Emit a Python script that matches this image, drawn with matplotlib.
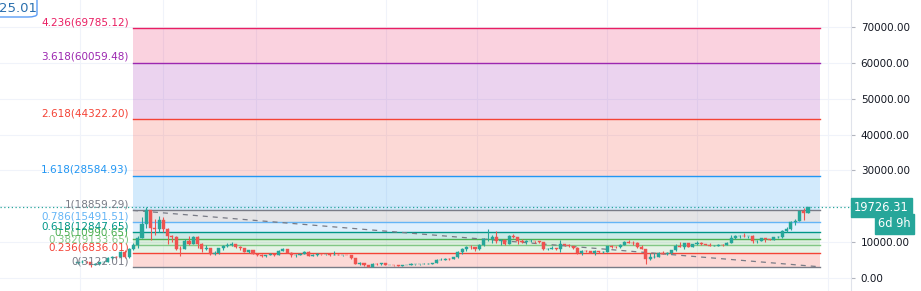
import matplotlib
matplotlib.use('Agg')
import matplotlib.pyplot as plt
import matplotlib.transforms as mtransforms
from matplotlib.patches import FancyBboxPatch
import numpy as np

# ---------------- Weekly BTC candles, Aug 2017 - Nov 2020 ----------------
first_open = 4090

closes = [
    # 2017
    4350, 4580, 4330, 3700, 3780, 4350, 4600, 5680, 5990, 5750, 7350, 5950, 8000, 9300, 11200, 15000, 19000, 13900, 13800,
    # 2018
    16200, 13600, 11600, 11500, 8200, 8100, 10400, 9600, 11400, 9500, 8200, 8400, 6800, 7000, 8300, 8900, 9300, 9400,
    8700, 8500, 7350, 7700, 6800, 6500, 6100, 6400, 6750, 6350, 7400, 8200, 7000, 6300, 6400, 6700, 7300, 6250, 6500,
    6700, 6600, 6600, 6300, 6500, 6400, 6450, 6350, 5600, 4000, 4100, 3600, 3200, 3950, 3800, 4050,
    # 2019
    3550, 3600, 3550, 3450, 3650, 3650, 3800, 3850, 3900, 4000, 4000, 4100, 5050, 5100, 5350, 5250, 5750, 7250, 8200,
    8750, 8550, 8000, 9300, 10800, 10800, 11400, 10200, 10500, 9500, 11800, 11400, 10300, 10150, 10400, 10400, 10300,
    9950, 8050, 8200, 8300, 8200, 9550, 9200, 8800, 8500, 7100, 7550, 7500, 7100, 7500, 7250, 7350,
    # 2020
    8900, 8700, 8600, 9300, 10150, 9900, 9650, 8550, 8000, 5350, 5800, 5900, 6850, 6650, 7100, 7700, 8900, 8700, 9700,
    8700, 9450, 9700, 9350, 9300, 9000, 9050, 9250, 9150, 9900, 11100, 11700, 11850, 11650, 11700, 10250, 10330, 11080,
    10750, 10670, 11370, 11500, 13030, 13800, 15480, 15980, 18650, 18180, 19726.31,
]

highs = [
    # 2017
    4500, 4980, 4700, 4400, 4100, 4450, 4800, 5850, 6170, 6100, 7500, 7900, 8300, 9800, 11800, 16900, 19666, 19100, 16500,
    # 2018
    17200, 17100, 14000, 12000, 11700, 9000, 11000, 11700, 11700, 11600, 9900, 9200, 8500, 7500, 8500, 9100, 9800, 9990,
    9500, 8900, 8500, 7800, 7800, 6900, 6800, 6500, 6900, 6800, 7700, 8500, 8200, 7200, 6600, 7000, 7400, 7400, 6600,
    6900, 6800, 6700, 6700, 7600, 6600, 6500, 6550, 6500, 5700, 4400, 4300, 3650, 4200, 4250, 4100,
    # 2019
    4100, 3700, 3650, 3550, 3700, 3700, 4200, 3900, 3950, 4050, 4100, 4150, 5300, 5450, 5450, 5650, 5850, 7450, 8400,
    8900, 9100, 8550, 9400, 11200, 13800, 12000, 13200, 11000, 10600, 12000, 12300, 11500, 10950, 10600, 10900, 10450,
    10350, 10050, 8500, 8800, 8400, 10500, 9600, 9450, 8900, 8650, 7850, 7750, 7600, 7800, 7600, 7500,
    # 2020
    8950, 9200, 8800, 9600, 10200, 10500, 10300, 9950, 9200, 8200, 6900, 6850, 7200, 7450, 7250, 7800, 9450, 10000, 9900,
    9900, 9600, 10400, 9950, 9600, 9800, 9300, 9450, 9350, 10000, 12100, 11900, 12100, 12450, 11800, 12050, 10600, 11150,
    11000, 10950, 11500, 11700, 13250, 14100, 15950, 16500, 18800, 19400, 19900,
]

lows = [
    # 2017
    3950, 4200, 4050, 2980, 3500, 3600, 4300, 4500, 5100, 5400, 5700, 5500, 5450, 7800, 8500, 11100, 14000, 10700, 12100,
    # 2018
    12900, 12800, 9400, 10000, 7800, 6000, 8000, 9300, 9400, 8500, 7300, 7800, 6500, 6400, 6600, 7900, 8700, 9000,
    8300, 7900, 7200, 7100, 6600, 6100, 5800, 5750, 6300, 6100, 6300, 7400, 6900, 5900, 5900, 6300, 6700, 6100, 6200,
    6100, 6400, 6500, 6100, 6300, 6350, 6250, 6300, 5400, 3800, 3700, 3400, 3122, 3200, 3650, 3650,
    # 2019
    3500, 3500, 3450, 3350, 3400, 3550, 3600, 3650, 3700, 3850, 3900, 3950, 4100, 4950, 5000, 5050, 5200, 5600, 6600,
    7500, 8000, 7450, 7700, 8900, 10300, 9700, 9900, 9100, 9200, 9400, 11200, 9600, 9800, 9400, 10000, 9900,
    9700, 7700, 7800, 8000, 7900, 7300, 8950, 8700, 8000, 6800, 6500, 7200, 7000, 6450, 7100, 6850,
    # 2020
    7350, 8400, 8300, 8450, 9200, 9700, 9300, 8500, 8000, 3850, 4900, 5700, 5900, 6600, 6500, 6800, 7600, 8700, 8200,
    8600, 8650, 9300, 9100, 9150, 8950, 8900, 9100, 9050, 9150, 9900, 10950, 11100, 11400, 11100, 9900, 9900, 10200,
    10150, 10500, 10500, 11200, 11250, 12900, 13300, 14800, 15900, 16200, 18100,
]

# ---------------- Fibonacci retracement ----------------
fib_ratios = ['0', '0.236', '0.382', '0.5', '0.618', '0.786', '1', '1.618', '2.618', '3.618', '4.236']
fib_prices = [3122.01, 6836.01, 9133.65, 10990.65, 12847.65, 15491.51, 18859.29, 28584.93, 44322.20, 60059.48, 69785.12]
fib_colors = ['#787b86', '#f44336', '#81c784', '#4caf50', '#009688', '#64b5f6',
              '#787b86', '#2196f3', '#f44336', '#9c27b0', '#e91e63']

last_price = 19726.31
price_ticks = [0, 10000, 20000, 30000, 40000, 50000, 60000, 70000]

# ---------------- Layout (pixels -> data) ----------------
W, H = 921, 291
axis_px = 851
x0_px, step_px = 78, 730 / 171          # first candle centre / candle spacing
fib_left_px, fib_right_px = 133, 820
grid_px = [80, 163, 256, 386, 477, 607, 697, 828]


def px_to_idx(px):
    return (px - x0_px) / step_px


fig = plt.figure(figsize=(W / 100, H / 100), dpi=100)
fig.patch.set_facecolor('white')
ax = fig.add_axes([0, 0, axis_px / W, 1])
ax.set_facecolor('white')

n = len(closes)
idx = np.arange(n)
c = np.array(closes, dtype=float)
o = np.array([first_open] + closes[:-1], dtype=float)
h = np.maximum(np.array(highs, dtype=float), np.maximum(o, c))
l = np.minimum(np.array(lows, dtype=float), np.minimum(o, c))

# grid
for v in price_ticks:
    ax.axhline(v, color='#f0f3fa', lw=0.8, zorder=0)
for g in grid_px:
    ax.axvline(px_to_idx(g), color='#f0f3fa', lw=0.8, zorder=0)

# fib fills & lines
fl, fr = px_to_idx(fib_left_px), px_to_idx(fib_right_px)
for i in range(1, len(fib_prices)):
    ax.fill_between([fl, fr], fib_prices[i - 1], fib_prices[i],
                    color=fib_colors[i], alpha=0.2, lw=0, zorder=1)
offset = mtransforms.offset_copy(ax.transData, fig=fig, x=-3, y=0.5, units='points')
for r, p, col in zip(fib_ratios, fib_prices, fib_colors):
    ax.plot([fl, fr], [p, p], color=col, lw=1, zorder=2)
    ax.text(fl, p, f"{r}({p:.2f})", transform=offset, ha='right', va='bottom',
            fontsize=7.5, color=col, zorder=6)

# trend line between anchors
ax.plot([fl, fr], [fib_prices[6], fib_prices[0]], color='#787b86', lw=0.9,
        ls=(0, (4, 4)), zorder=2)

# candles
up = c >= o
cols = np.where(up, '#26a69a', '#ef5350')
ax.vlines(idx, l, h, colors=cols, lw=0.8, zorder=4)
ax.bar(idx, c - o, bottom=o, width=0.72, color=cols, edgecolor=cols, lw=0.3, zorder=5)

# last price line
ax.axhline(last_price, color='#26a69a', lw=0.9, ls=(0, (1, 2)), zorder=3)

ax.set_xlim(px_to_idx(0), px_to_idx(axis_px))
ax.set_ylim((278 - H) / 0.0035857, 278 / 0.0035857)

# price axis on the right
ax.yaxis.tick_right()
ax.set_yticks(price_ticks)
ax.set_yticklabels(['' if v == 20000 else f"{v:.2f}" for v in price_ticks])
ax.tick_params(axis='y', length=3, width=0.8, color='#b2b5be', pad=4,
               labelsize=7.5, labelcolor='#131722')
ax.set_xticks([])
for s in ['top', 'left', 'bottom']:
    ax.spines[s].set_visible(False)
ax.spines['right'].set_color('#e0e3eb')

# last price / countdown labels
tr = mtransforms.blended_transform_factory(ax.transAxes, ax.transData)
ax.text(1.0 + 3 / axis_px, last_price, "19726.31", transform=tr, ha='left', va='center',
        fontsize=8.3, color='white', clip_on=False, zorder=10,
        bbox=dict(boxstyle='square,pad=0.28', fc='#26a69a', ec='#26a69a'))
ax.annotate("6d 9h", xy=(1.0 + 27 / axis_px, last_price), xycoords=tr,
            xytext=(0, -12), textcoords='offset points', ha='left', va='center',
            fontsize=8.3, color='white', annotation_clip=False, zorder=10,
            bbox=dict(boxstyle='square,pad=0.28', fc='#26a69a', ec='#26a69a'))

# clipped label box at top-left
fig.patches.append(FancyBboxPatch((-12 / W, (H - 17) / H), 49 / W, 24 / H,
                                  boxstyle='round,pad=0,rounding_size=0.01',
                                  transform=fig.transFigure, fc='white', ec='#5b9cf6', lw=1))
fig.text(-1 / W, (H - 8) / H, "25.01", ha='left', va='center', fontsize=9.5, color='#2a6fae')

plt.savefig('out.png', dpi=100)
plt.close()
